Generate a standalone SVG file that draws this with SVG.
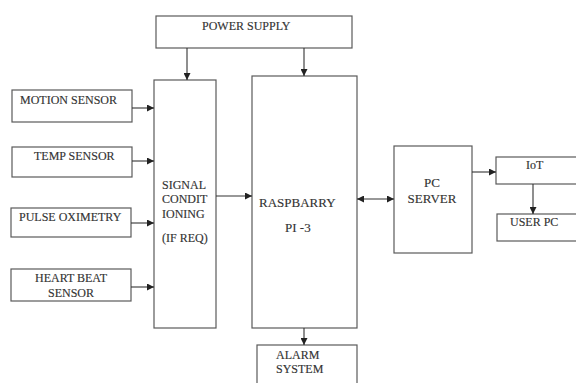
<svg xmlns="http://www.w3.org/2000/svg" width="576" height="383" viewBox="0 0 576 383">
<style>
.box{fill:#fff;stroke:#5a5a5a;stroke-width:1.2}
.ln{stroke:#333;stroke-width:1.1;fill:none}
text{font-family:"Liberation Serif","Times New Roman",serif;font-size:12px;fill:#333;stroke:#333;stroke-width:0.15}
</style>
<defs>
<marker id="ah" viewBox="0 0 8 8" refX="8" refY="4" markerWidth="7" markerHeight="7" markerUnits="userSpaceOnUse" orient="auto-start-reverse">
<path d="M0,0 L8,4 L0,8 Z" fill="#222"/>
</marker>
</defs>
<rect width="576" height="383" fill="#fff"/>
<g id="power"><rect class="box" x="156" y="16" width="196" height="32"/><text x="202" y="30">POWER SUPPLY</text></g>
<g id="motion"><rect class="box" x="12" y="90" width="120" height="32"/><text x="20" y="104">MOTION SENSOR</text></g>
<g id="temp"><rect class="box" x="12" y="147" width="120" height="30"/><text x="34" y="160">TEMP SENSOR</text></g>
<g id="pulse"><rect class="box" x="11" y="208" width="120" height="29"/><text x="19" y="221">PULSE OXIMETRY</text></g>
<g id="heart"><rect class="box" x="11" y="269" width="120" height="32"/><text x="71" y="282" text-anchor="middle">HEART BEAT</text><text x="71" y="297" text-anchor="middle">SENSOR</text></g>
<g id="signal"><rect class="box" x="154" y="80" width="62" height="248"/><text x="162" y="189">SIGNAL</text><text x="162" y="203">CONDIT</text><text x="162" y="218">IONING</text><text x="162" y="242">(IF REQ)</text></g>
<g id="raspberry"><rect class="box" x="252" y="76" width="105" height="252"/><text x="259" y="207" style="font-size:13px">RASPBARRY</text><text x="285" y="232" style="font-size:13px">PI -3</text></g>
<g id="server"><rect class="box" x="394" y="146" width="78" height="107"/><text x="432" y="187" text-anchor="middle" style="font-size:13px">PC</text><text x="432" y="203" text-anchor="middle" style="font-size:13px">SERVER</text></g>
<g id="iot"><rect class="box" x="496" y="157" width="84" height="27"/><text x="526" y="169">IoT</text></g>
<g id="userpc"><rect class="box" x="497" y="214" width="83" height="27"/><text x="510" y="226">USER PC</text></g>
<g id="alarm"><rect class="box" x="257" y="345" width="100" height="45"/><text x="276" y="359">ALARM</text><text x="276" y="373">SYSTEM</text></g>
<g id="connectors">
<line class="ln" x1="187" y1="48" x2="187" y2="80" marker-end="url(#ah)"/>
<line class="ln" x1="304" y1="48" x2="304" y2="76" marker-end="url(#ah)"/>
<line class="ln" x1="132" y1="108" x2="154" y2="108" marker-end="url(#ah)"/>
<line class="ln" x1="132" y1="161" x2="154" y2="161" marker-end="url(#ah)"/>
<line class="ln" x1="131" y1="223" x2="154" y2="223" marker-end="url(#ah)"/>
<line class="ln" x1="131" y1="287" x2="154" y2="287" marker-end="url(#ah)"/>
<line class="ln" x1="216" y1="196" x2="252" y2="196" marker-end="url(#ah)"/>
<line class="ln" x1="357" y1="199" x2="394" y2="199" marker-start="url(#ah)" marker-end="url(#ah)"/>
<line class="ln" x1="472" y1="172" x2="496" y2="172" marker-end="url(#ah)"/>
<line class="ln" x1="533" y1="184" x2="533" y2="214" marker-end="url(#ah)"/>
<line class="ln" x1="304" y1="328" x2="304" y2="345" marker-end="url(#ah)"/>
</g>
</svg>
